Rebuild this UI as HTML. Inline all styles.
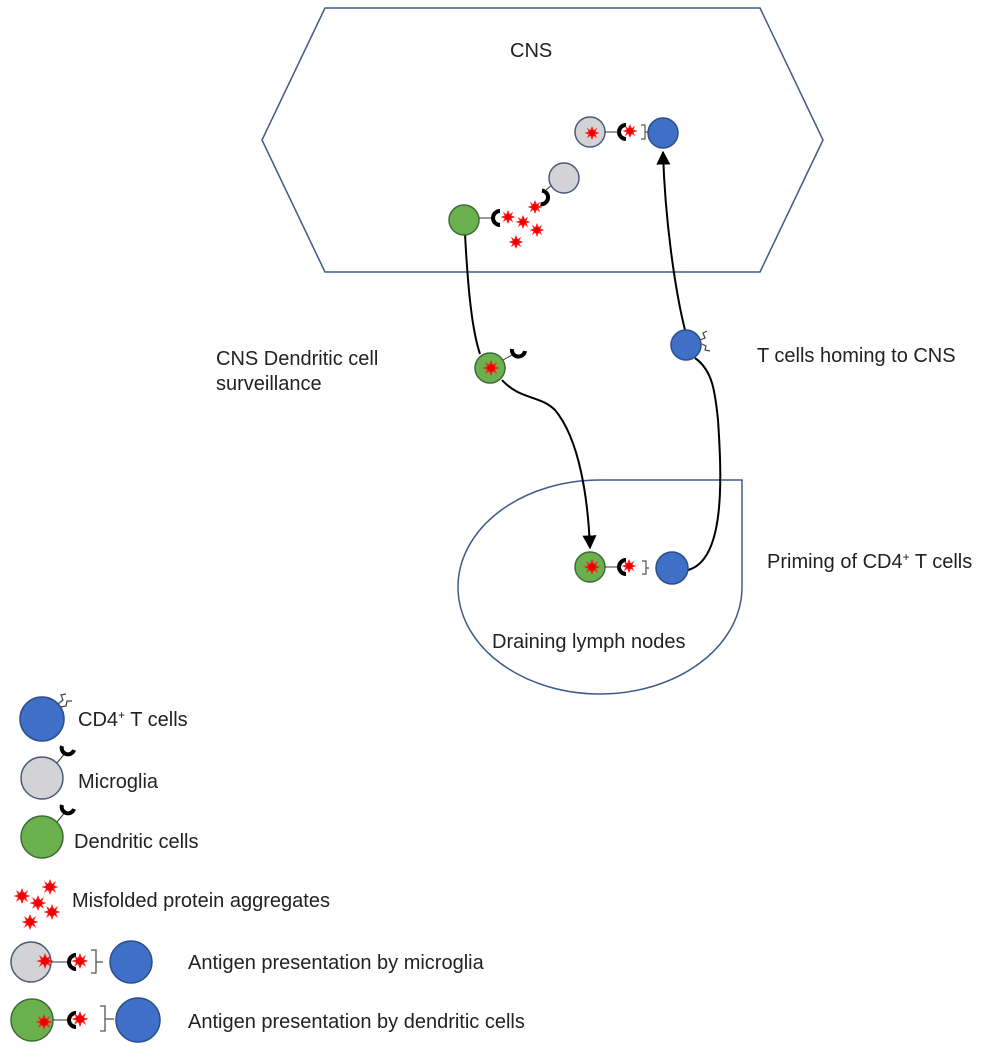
<!DOCTYPE html>
<html><head><meta charset="utf-8"><style>
html,body{margin:0;padding:0;background:#fff;}
svg text{font-family:"Liberation Sans",Arial,sans-serif;font-size:20px;fill:#222;}
</style></head><body>
<svg width="987" height="1050" viewBox="0 0 987 1050" xmlns="http://www.w3.org/2000/svg">
<defs>
<g id="st"><polygon fill="#ff1a1a" points="0,-8 2,-3 6,-6 4,-1.5 8.5,0 4,1.5 6,6 2,3 0,8 -2,3 -6,6 -4,1.5 -8.5,0 -4,-1.5 -6,-6 -2,-3"/><circle r="3.8" fill="#e00"/></g>
<g id="sts"><polygon fill="#ff1a1a" points="0,-7 1.8,-2.7 5.2,-5.2 3.4,-1.4 7.5,0 3.4,1.4 5.2,5.2 1.8,2.7 0,7 -1.8,2.7 -5.2,5.2 -3.4,1.4 -7.5,0 -3.4,-1.4 -5.2,-5.2 -1.8,-2.7"/><circle r="3" fill="#e00"/></g>
<marker id="ah" viewBox="0 0 10 10" refX="9" refY="5" markerWidth="7" markerHeight="7" orient="auto"><path d="M0,0 L10,5 L0,10 z" fill="#000"/></marker>
</defs>

<polygon points="325,8 760,8 823,140 760,272 325,272 262,140" fill="none" stroke="#3d5a8a" stroke-width="1.5"/>
<text x="510" y="57">CNS</text>

<path d="M600,480 L742,480 L742,587 A142,107 0 1,1 600,480 Z" fill="none" stroke="#3d5a8a" stroke-width="1.5"/>
<text x="492" y="648">Draining lymph nodes</text>

<path d="M465,234 C468,290 472,330 480,354" fill="none" stroke="#000" stroke-width="2"/>
<path d="M502,380 C520,400 540,395 555,410 C580,440 588,500 590,548" fill="none" stroke="#000" stroke-width="2" marker-end="url(#ah)"/>
<path d="M688,570 C725,560 722,480 718,420 C715,390 712,370 695,358" fill="none" stroke="#000" stroke-width="2"/>
<path d="M685,330 C675,290 665,220 663,152" fill="none" stroke="#000" stroke-width="2" marker-end="url(#ah)"/>

<circle cx="590" cy="132" r="15" fill="#d3d3d6" stroke="#4a5a7a" stroke-width="1.5"/>
<use href="#sts" x="592" y="133"/>
<line x1="605" y1="132" x2="618" y2="132" stroke="#333"/>
<path d="M626,125 A6.5,6.5 0 1,0 626,139" fill="none" stroke="#000" stroke-width="4"/>
<use href="#sts" x="630" y="131"/>
<path d="M641,125 h4 v14 h-4 M645,132 h3" fill="none" stroke="#555" stroke-width="1.2"/>
<circle cx="663" cy="133" r="15" fill="#3f6fc6" stroke="#2c4f8a" stroke-width="1.5"/>

<circle cx="464" cy="220" r="15" fill="#6ab04c" stroke="#3e6a3a" stroke-width="1.5"/>
<line x1="479" y1="218" x2="491" y2="218" stroke="#333"/>
<path d="M500,211 A6.5,6.5 0 1,0 500,225" fill="none" stroke="#000" stroke-width="4"/>
<use href="#sts" x="508" y="217"/>
<use href="#sts" x="523" y="222"/>
<use href="#sts" x="535" y="207"/>
<use href="#sts" x="537" y="230"/>
<use href="#sts" x="516" y="242"/>
<path d="M537,203 A6,6 0 1,0 545,192" fill="none" stroke="#000" stroke-width="4" transform="rotate(-30 541 197)"/>
<line x1="546" y1="190" x2="553" y2="184" stroke="#333"/>
<circle cx="564" cy="178" r="15" fill="#d3d3d6" stroke="#4a5a7a" stroke-width="1.5"/>

<circle cx="490" cy="368" r="15" fill="#6ab04c" stroke="#3e6a3a" stroke-width="1.5"/>
<use href="#st" x="491" y="368"/>
<line x1="503" y1="360" x2="512" y2="355" stroke="#333"/>
<path d="M512,349 A6,6 0 0,0 525,351" fill="none" stroke="#000" stroke-width="4"/>
<text x="216" y="365">CNS Dendritic cell</text>
<text x="216" y="390">surveillance</text>

<circle cx="686" cy="345" r="15" fill="#3f6fc6" stroke="#2c4f8a" stroke-width="1.5"/>
<path d="M700,340 l5,-2 l-2,-5 l4,-2 M702,344 l4,2 l-1,4 l5,1" fill="none" stroke="#444" stroke-width="1.2"/>
<text x="757" y="362">T cells homing to CNS</text>

<circle cx="590" cy="567" r="15" fill="#6ab04c" stroke="#3e6a3a" stroke-width="1.5"/>
<use href="#st" x="592" y="567"/>
<line x1="605" y1="567" x2="618" y2="567" stroke="#333"/>
<path d="M626,560 A6.5,6.5 0 1,0 626,574" fill="none" stroke="#000" stroke-width="4"/>
<use href="#sts" x="629" y="566"/>
<path d="M642,561 h4 v13 h-4 M646,568 h3" fill="none" stroke="#555" stroke-width="1.2"/>
<circle cx="672" cy="568" r="16" fill="#3f6fc6" stroke="#2c4f8a" stroke-width="1.5"/>
<text x="767" y="568">Priming of CD4<tspan font-size="12" dy="-7">+</tspan><tspan dy="7"> T cells</tspan></text>

<circle cx="42" cy="719" r="22" fill="#3f6fc6" stroke="#2c4f8a" stroke-width="1.5"/>
<path d="M58,704 l5,-4 l-2,-5 l5,-1 M61,707 l5,-1 l1,-5 l5,0" fill="none" stroke="#444" stroke-width="1.2"/>
<text x="78" y="726">CD4<tspan font-size="12" dy="-7">+</tspan><tspan dy="7"> T cells</tspan></text>

<circle cx="42" cy="778" r="21" fill="#d3d3d6" stroke="#4a5a7a" stroke-width="1.5"/>
<line x1="57" y1="763" x2="66" y2="752" stroke="#333"/>
<path d="M62,746 A5.5,5.5 0 0,0 74,750" fill="none" stroke="#000" stroke-width="4"/>
<text x="78" y="788">Microglia</text>

<circle cx="42" cy="837" r="21" fill="#6ab04c" stroke="#3e6a3a" stroke-width="1.5"/>
<line x1="57" y1="822" x2="66" y2="811" stroke="#333"/>
<path d="M62,805 A5.5,5.5 0 0,0 74,809" fill="none" stroke="#000" stroke-width="4"/>
<text x="74" y="848">Dendritic cells</text>

<use href="#st" x="22" y="896"/>
<use href="#st" x="50" y="887"/>
<use href="#st" x="38" y="903"/>
<use href="#st" x="52" y="912"/>
<use href="#st" x="30" y="922"/>
<text x="72" y="907">Misfolded protein aggregates</text>

<circle cx="31" cy="962" r="20" fill="#d3d3d6" stroke="#4a5a7a" stroke-width="1.5"/>
<use href="#st" x="45" y="961"/>
<line x1="51" y1="962" x2="67" y2="962" stroke="#333"/>
<path d="M76,955 A6.5,6.5 0 1,0 76,969" fill="none" stroke="#000" stroke-width="4"/>
<use href="#st" x="80" y="961"/>
<path d="M91,950 h5 v23 h-5 M96,962 h7" fill="none" stroke="#555" stroke-width="1.3"/>
<circle cx="131" cy="962" r="21" fill="#3f6fc6" stroke="#2c4f8a" stroke-width="1.5"/>
<text x="188" y="969">Antigen presentation by microglia</text>

<circle cx="32" cy="1020" r="21" fill="#6ab04c" stroke="#3e6a3a" stroke-width="1.5"/>
<use href="#st" x="44" y="1022"/>
<line x1="53" y1="1020" x2="67" y2="1020" stroke="#333"/>
<path d="M76,1013 A6.5,6.5 0 1,0 76,1027" fill="none" stroke="#000" stroke-width="4"/>
<use href="#st" x="80" y="1019"/>
<path d="M100,1006 h5 v25 h-5 M105,1019 h9" fill="none" stroke="#555" stroke-width="1.3"/>
<circle cx="138" cy="1020" r="22" fill="#3f6fc6" stroke="#2c4f8a" stroke-width="1.5"/>
<text x="188" y="1028">Antigen presentation by dendritic cells</text>
</svg>
</body></html>
